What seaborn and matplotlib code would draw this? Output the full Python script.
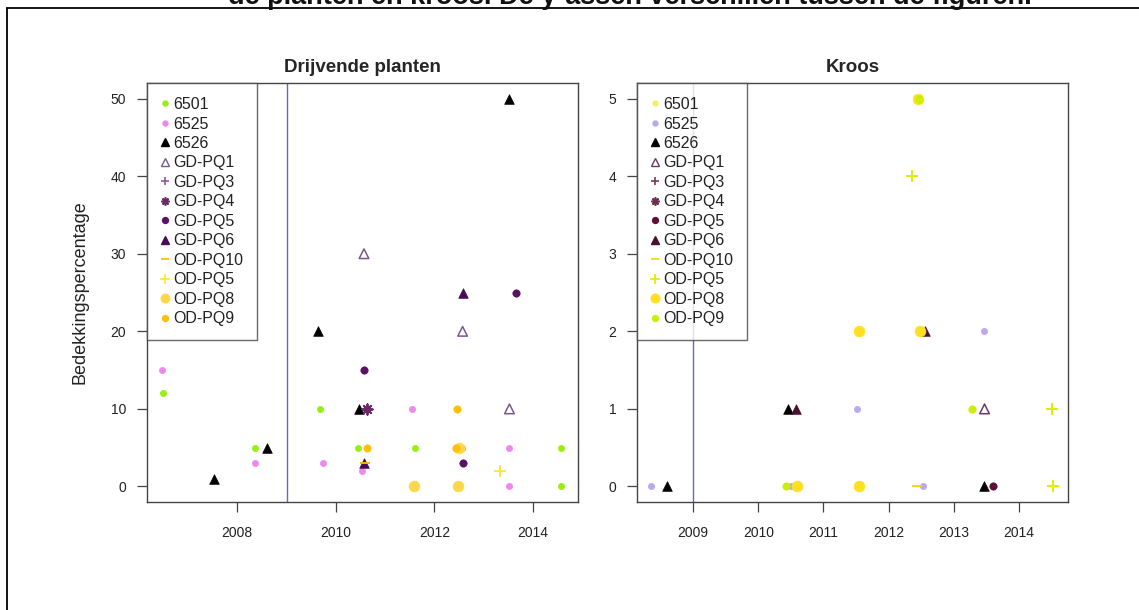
import matplotlib
matplotlib.use("Agg")
import matplotlib.pyplot as plt
from matplotlib.lines import Line2D
import seaborn as sns
import pandas as pd

sns.set_theme(style="white")
plt.rcParams["font.family"] = ["Liberation Sans", "DejaVu Sans"]

# Series shown in the legends (same order in both panels)
series_order = ["6501", "6525", "6526", "GD-PQ1", "GD-PQ3", "GD-PQ4",
                "GD-PQ5", "GD-PQ6", "OD-PQ10", "OD-PQ5", "OD-PQ8", "OD-PQ9"]

# Drijvende planten: observations (series, year, cover %)
dp_series = ["6501", "6501", "6501", "6501", "6501", "6501", "6501",
             "6525", "6525", "6525", "6525", "6525", "6525", "6525", "6525",
             "6526", "6526", "6526", "6526", "6526",
             "GD-PQ1", "GD-PQ1", "GD-PQ1",
             "GD-PQ4",
             "GD-PQ5", "GD-PQ5", "GD-PQ5",
             "GD-PQ6", "GD-PQ6",
             "OD-PQ10",
             "OD-PQ5",
             "OD-PQ9", "OD-PQ9", "OD-PQ9",
             "OD-PQ8", "OD-PQ8", "OD-PQ8"]
dp_year = [2006.5, 2008.35, 2009.68, 2010.45, 2011.6, 2014.57, 2014.56,
           2006.47, 2008.35, 2009.74, 2010.53, 2011.55, 2012.56, 2013.52, 2013.52,
           2007.53, 2008.6, 2009.64, 2010.47, 2013.52,
           2010.57, 2012.57, 2013.52,
           2010.63,
           2010.57, 2012.57, 2013.66,
           2010.57, 2012.57,
           2010.6,
           2013.32,
           2010.63, 2012.43, 2012.46,
           2011.58, 2012.48, 2012.5]
dp_value = [12, 5, 10, 5, 5, 5, 0,
            15, 3, 3, 2, 10, 5, 5, 0,
            1, 5, 20, 10, 50,
            30, 20, 10,
            10,
            15, 3, 25,
            3, 25,
            3,
            2,
            5, 5, 10,
            0, 0, 5]

# Kroos: observations (series, year, cover %)
kr_series = ["6525", "6525", "6525", "6525", "6525",
             "6526", "6526", "6526",
             "GD-PQ1",
             "GD-PQ5",
             "GD-PQ6", "GD-PQ6",
             "OD-PQ5", "OD-PQ5", "OD-PQ5",
             "OD-PQ8", "OD-PQ8", "OD-PQ8", "OD-PQ8", "OD-PQ8",
             "OD-PQ9", "OD-PQ9", "OD-PQ9",
             "OD-PQ10"]
kr_year = [2008.35, 2010.5, 2011.52, 2012.52, 2013.46,
           2008.6, 2010.46, 2013.46,
           2013.47,
           2013.6,
           2010.58, 2012.55,
           2012.35, 2014.5, 2014.52,
           2012.45, 2011.54, 2012.48, 2011.55, 2010.6,
           2013.28, 2010.42, 2012.47,
           2012.43]
kr_value = [0, 0, 1, 0, 2,
            0, 1, 0,
            1,
            0,
            1, 2,
            4, 1, 0,
            5, 2, 2, 0, 0,
            1, 0, 5,
            0]

# Marker style per series: (marker, size in pt^2, filled)
styles = {
    "6501": ("o", 20, True),
    "6525": ("o", 20, True),
    "6526": ("^", 48, True),
    "GD-PQ1": ("^", 48, False),
    "GD-PQ3": ("+", 55, False),
    "GD-PQ4": ((8, 2, 0), 55, False),
    "GD-PQ5": ("o", 28, True),
    "GD-PQ6": ("^", 48, True),
    "OD-PQ10": ("_", 45, False),
    "OD-PQ5": ("+", 80, False),
    "OD-PQ8": ("o", 60, True),
    "OD-PQ9": ("o", 28, True),
}

dp_colors = {
    "6501": "#99ee11", "6525": "#ee88ee", "6526": "#000000",
    "GD-PQ1": "#7a5a8a", "GD-PQ3": "#8a5a9a", "GD-PQ4": "#6a2a6a",
    "GD-PQ5": "#5a1066", "GD-PQ6": "#4a0a5a", "OD-PQ10": "#ffb400",
    "OD-PQ5": "#ffe640", "OD-PQ8": "#ffd84a", "OD-PQ9": "#ffc000",
}
kr_colors = {
    "6501": "#f2f260", "6525": "#bba8ee", "6526": "#000000",
    "GD-PQ1": "#6a3a6a", "GD-PQ3": "#7a3a60", "GD-PQ4": "#6a3050",
    "GD-PQ5": "#5a1038", "GD-PQ6": "#4a1030", "OD-PQ10": "#eedd00",
    "OD-PQ5": "#ddee00", "OD-PQ8": "#ffe020", "OD-PQ9": "#ccee00",
}

W, H = 1139, 610
fig = plt.figure(figsize=(W / 100, H / 100), dpi=100)

edge = "#444444"


def make_panel(rect, series, years, values, colors, title, xlim, ylim, xticks, yticks):
    ax = fig.add_axes(rect)
    df = pd.DataFrame({"series": series, "year": years, "value": values})
    ax.axvline(2009, color="#6666cc", lw=1.0, zorder=1)
    for name in series_order:
        sub = df[df["series"] == name]
        if sub.empty:
            continue
        marker, size, filled = styles[name]
        col = colors[name]
        if filled:
            sns.scatterplot(data=sub, x="year", y="value", ax=ax, marker=marker,
                            s=size, color=col, edgecolor=col, linewidth=0.5,
                            legend=False, zorder=3)
        elif marker == "^":
            sns.scatterplot(data=sub, x="year", y="value", ax=ax, marker=marker,
                            s=size, facecolor="none", edgecolor=col, linewidth=1.1,
                            legend=False, zorder=3)
        else:
            sns.scatterplot(data=sub, x="year", y="value", ax=ax, marker=marker,
                            s=size, color=col, linewidth=1.4,
                            legend=False, zorder=3)
    ax.set_xlim(*xlim)
    ax.set_ylim(*ylim)
    ax.set_xticks(xticks)
    ax.set_yticks(yticks)
    ax.set_xlabel("")
    ax.set_ylabel("")
    ax.set_title(title, fontsize=13.5, fontweight="bold", pad=8)
    for sp in ax.spines.values():
        sp.set_color(edge)
        sp.set_linewidth(1.0)
    ax.tick_params(axis="both", direction="out", length=7, width=0.9,
                   color=edge, labelsize=10, labelcolor="#222222",
                   bottom=True, left=True)
    ax.tick_params(axis="x", pad=10)
    ax.tick_params(axis="y", pad=8)

    handles = []
    for name in series_order:
        marker, size, filled = styles[name]
        col = colors[name]
        ms = size ** 0.5
        if filled:
            h = Line2D([], [], ls="none", marker=marker, markersize=ms * 0.8,
                       markerfacecolor=col, markeredgecolor=col)
        elif marker == "^":
            h = Line2D([], [], ls="none", marker=marker, markersize=ms * 0.8,
                       markerfacecolor="none", markeredgecolor=col, markeredgewidth=1.0)
        else:
            h = Line2D([], [], ls="none", marker=marker, markersize=ms * 0.8,
                       color=col, markeredgewidth=1.2)
        handles.append(h)
    leg = ax.legend(handles, series_order, loc="upper left", borderaxespad=0,
                    frameon=True, fancybox=False, fontsize=11.5, handlelength=0.5,
                    handletextpad=0.25, labelspacing=0.28, borderpad=0.88)
    leg.get_frame().set_edgecolor(edge)
    leg.get_frame().set_linewidth(1.0)
    for t in leg.get_texts():
        t.set_color("#222222")
    return ax


ax1 = make_panel([147 / W, 1 - 502 / H, 431 / W, 419 / H],
                 dp_series, dp_year, dp_value, dp_colors, "Drijvende planten",
                 (2006.17, 2014.91), (-2, 52), [2008, 2010, 2012, 2014],
                 [0, 10, 20, 30, 40, 50])
ax1.set_ylabel("Bedekkingspercentage", fontsize=13, labelpad=16, color="#222222")

ax2 = make_panel([637 / W, 1 - 502 / H, 431 / W, 419 / H],
                 kr_series, kr_year, kr_value, kr_colors, "Kroos",
                 (2008.14, 2014.75), (-0.2, 5.2), [2009, 2010, 2011, 2012, 2013, 2014],
                 [0, 1, 2, 3, 4, 5])

# Caption line and surrounding frame
fig.text(630 / W, 1 - 3.5 / H,
         "de planten en kroos. De y-assen verschillen tussen de figuren.",
         ha="center", va="baseline", fontsize=19.5, fontweight="bold", color="#111111")
fig.add_artist(Line2D([7 / W, 1.0], [1 - 7.5 / H, 1 - 7.5 / H],
                      transform=fig.transFigure, color="black", lw=1.3))
fig.add_artist(Line2D([7 / W, 7 / W], [1 - 7.5 / H, 0], transform=fig.transFigure,
                      color="black", lw=1.3))

fig.savefig("out.png", dpi=100)
